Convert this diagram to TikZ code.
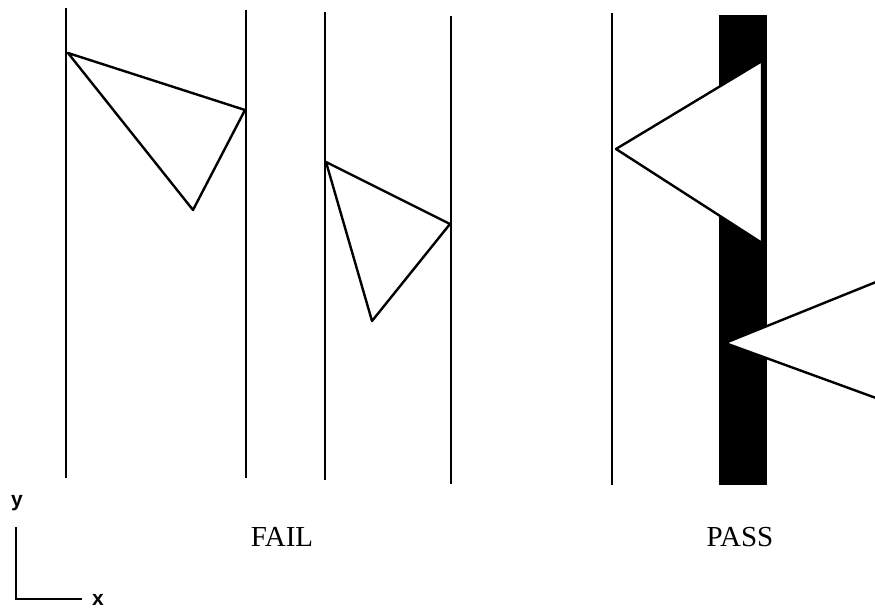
\documentclass[tikz,border=0pt]{standalone}
\usepackage{fontspec}
\setmainfont{Liberation Serif}
\setsansfont{Liberation Sans}
\tikzset{
  wall/.style={line width=2.4pt},
  tri/.style={line width=2.4pt, line join=round, fill=white},
  lbl/.style={font=\fontsize{29}{32}\selectfont, inner sep=0pt},
  axlbl/.style={font=\sffamily\bfseries\fontsize{21}{23}\selectfont, inner sep=0pt}
}
\begin{document}
\begin{tikzpicture}[x=1pt,y=-1pt]
\useasboundingbox (0,0) rectangle (875,609);
% pair 1
\coordinate (a1) at (66,8);   \coordinate (a2) at (66,478);
\coordinate (b1) at (246,10); \coordinate (b2) at (246,478);
\draw[wall] (a1) -- (a2);
\draw[wall] (b1) -- (b2);
\coordinate (t1a) at (68,53); \coordinate (t1b) at (245,110); \coordinate (t1c) at (193,210);
\draw[tri] (t1a) -- (t1b) -- (t1c) -- cycle;
% pair 2
\coordinate (c1) at (325,12); \coordinate (c2) at (325,480);
\coordinate (d1) at (451,16); \coordinate (d2) at (451,484);
\draw[wall] (c1) -- (c2);
\draw[wall] (d1) -- (d2);
\coordinate (t2a) at (326,162); \coordinate (t2b) at (450,224); \coordinate (t2c) at (372,321);
\draw[tri] (t2a) -- (t2b) -- (t2c) -- cycle;
% pass
\coordinate (e1) at (612,13); \coordinate (e2) at (612,485);
\draw[wall] (e1) -- (e2);
\coordinate (barA) at (719,15); \coordinate (barB) at (767,485);
\fill (barA) rectangle (barB);
\coordinate (t3a) at (616,149); \coordinate (t3b) at (762,61); \coordinate (t3c) at (762,243);
\draw[tri] (t3a) -- (t3b) -- (t3c) -- cycle;
\coordinate (t4a) at (725,343); \coordinate (t4b) at (876,282); \coordinate (t4c) at (876,398);
\fill[white] (t4a) -- (t4b) -- (t4c) -- cycle;
\draw[line width=2.4pt, line join=round] (t4b) -- (t4a) -- (t4c);
% labels
\node[lbl] (fail) at (282,537) {FAIL};
\node[lbl] (pass) at (740,537) {PASS};
% axes
\coordinate (o) at (16,599);
\coordinate (ytop) at (16,527);
\coordinate (xend) at (82,599);
\draw[line width=2.2pt] (ytop) -- (o) -- (xend);
\node[axlbl] (ylab) at (17,503) {y};
\node[axlbl] (xlab) at (98,600) {x};
\end{tikzpicture}
\end{document}
